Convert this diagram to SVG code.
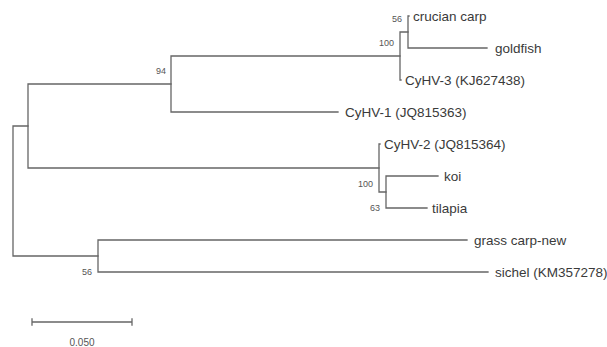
<svg xmlns="http://www.w3.org/2000/svg" width="607" height="347" viewBox="0 0 607 347">
<style>
.br{fill:none;stroke:#666;stroke-width:1.3;stroke-linecap:square}
.lf{font-family:"Liberation Sans",Arial,sans-serif;font-size:13.5px;fill:#3a3a3a}
.bs{font-family:"Liberation Sans",Arial,sans-serif;font-size:9px;fill:#555;text-anchor:end}
.sc{font-family:"Liberation Sans",Arial,sans-serif;font-size:10px;fill:#555;text-anchor:middle}
</style>
<rect width="607" height="347" fill="#fff"/>
<g id="connectors">
<path class="br" d="M13,126V256M13,126H28M13,256H98"/>
<path class="br" d="M28,84V168M28,84H171M28,168H379"/>
<path class="br" d="M171,56V112M171,56H400M171,112H338"/>
<path class="br" d="M400,32V80M400,32H408M400,80H401"/>
<path class="br" d="M408,16V48M408,16H409M408,48H487"/>
<path class="br" d="M379,144V192M379,144H380M379,192H386"/>
<path class="br" d="M386,176V208M386,176H438M386,208H427"/>
<path class="br" d="M98,240V272M98,240H467M98,272H488"/>
</g>
<g id="leaf-crucian"><text class="lf" x="413" y="21">crucian carp</text></g>
<g id="leaf-goldfish"><text class="lf" x="495" y="53">goldfish</text></g>
<g id="leaf-cyhv3"><text class="lf" x="405" y="85">CyHV-3 (KJ627438)</text></g>
<g id="leaf-cyhv1"><text class="lf" x="345" y="117">CyHV-1 (JQ815363)</text></g>
<g id="leaf-cyhv2"><text class="lf" x="384" y="149">CyHV-2 (JQ815364)</text></g>
<g id="leaf-koi"><text class="lf" x="444" y="181">koi</text></g>
<g id="leaf-tilapia"><text class="lf" x="432" y="213">tilapia</text></g>
<g id="leaf-grass"><text class="lf" x="474" y="245">grass carp-new</text></g>
<g id="leaf-sichel"><text class="lf" x="495" y="277">sichel (KM357278)</text></g>
<g id="bootstrap">
<text class="bs" x="166" y="74">94</text>
<text class="bs" x="402" y="22">56</text>
<text class="bs" x="394" y="46">100</text>
<text class="bs" x="373" y="187">100</text>
<text class="bs" x="380" y="211">63</text>
<text class="bs" x="92" y="275">56</text>
</g>
<g id="scale">
<path class="br" d="M32,322H132M32,319V325M132,319V325"/>
<text class="sc" x="82" y="346">0.050</text>
</g>
</svg>
